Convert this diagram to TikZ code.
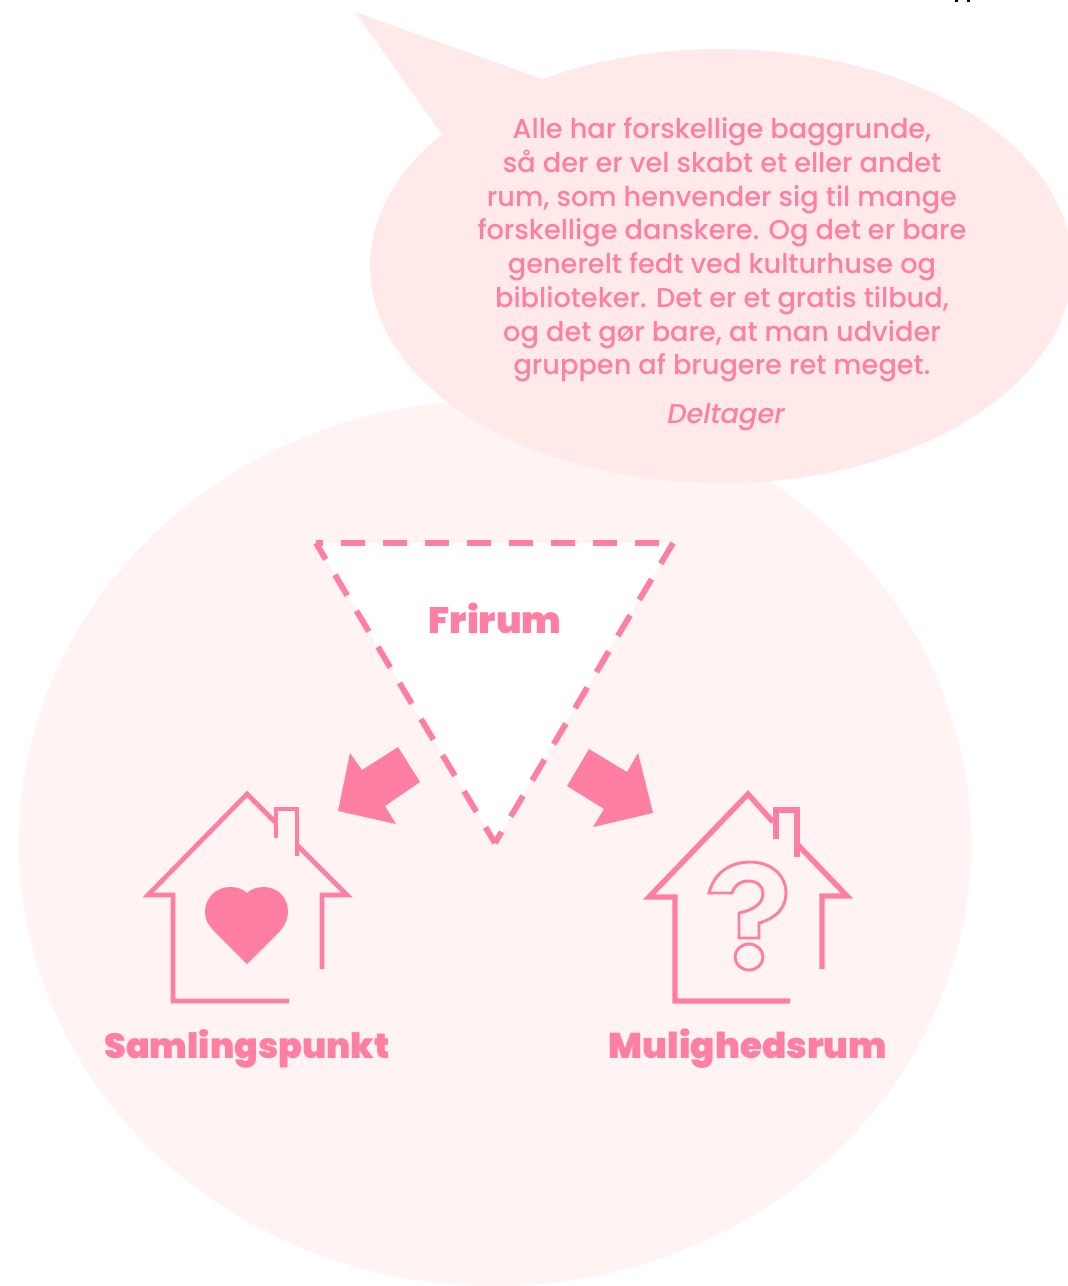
\documentclass[tikz,border=0pt]{standalone}
\usepackage{fontspec}
\setmainfont{Poppins Medium}[ItalicFont={Poppins Medium Italic}]
\newfontfamily\hd{Poppins Black}
\definecolor{pk}{HTML}{FF7FA3}
\definecolor{bub}{HTML}{FFE9E9}
\definecolor{circ}{HTML}{FFF3F3}
\tikzset{
  pxgrid/.style={x=0.75pt,y=-0.75pt},
  houseline/.style={draw=pk,line width=3.5pt,miter limit=10},
  dashline/.style={draw=pk,line width=4.4pt},
  bigarrow/.style={fill=pk},
  head/.style={text=pk,font=\hd\fontsize{26.2}{30}\selectfont,inner sep=0pt},
  quotetext/.style={text=pk,font=\fontsize{20.4}{25.3}\selectfont,align=center,inner sep=0pt}
}
\begin{document}
\begin{tikzpicture}[pxgrid]
\useasboundingbox (0,0) rectangle (1068,1286);
\fill[circ] (495,843) ellipse [x radius=476,y radius=443];
\fill[bub] (721,266) ellipse [x radius=351,y radius=217];
\fill[bub] (441,133) -- (355,12) -- (542,79) -- (600,200) -- cycle;
\fill[black] (955,0) rectangle (958,2);
\fill[black] (967,0) rectangle (970,2);
% triangle
\coordinate (ta) at (316,543);
\coordinate (tb) at (673,543);
\coordinate (tc) at (495,843);
\fill[white] (ta) -- (tb) -- (tc) -- cycle;
\draw[dashline,dash pattern=on 18pt off 13.5pt,dash phase=12.75pt] (ta) -- (tb);
\draw[dashline,dash pattern=on 18pt off 13.5pt,dash phase=3.75pt] (ta) -- (tc);
\draw[dashline,dash pattern=on 18pt off 13.5pt] (tb) -- (tc);
% arrows
\fill[bigarrow] (338,811) -- (350,753) -- (362,770) -- (398,747) -- (420,782) -- (385,806) -- (396,824) -- cycle;
\fill[bigarrow] (653,813) -- (638,753) -- (627,772) -- (589,749) -- (567,786) -- (604,809) -- (593,827) -- cycle;
% house 1
\draw[houseline] (275,822) -- (247,794) -- (148,895) -- (173,895) -- (173,1001) -- (289,1001);
\draw[houseline] (322,969) -- (322,895) -- (347,895) -- (297,845);
\draw[houseline] (276,838) -- (276,809) -- (297,809) -- (297,856);
\fill[pk] (247,964) -- (214,931) .. controls (208,925) and (205,919) .. (205,912) .. controls (205,898) and (216,887) .. (230,887) .. controls (237,887) and (243,889) .. (247,893) .. controls (251,889) and (257,887) .. (264,887) .. controls (278,887) and (288,898) .. (288,912) .. controls (288,919) and (285,925) .. (280,931) -- cycle;
% house 2
\draw[houseline,line width=4pt] (773,822) -- (748,794) -- (649,897) -- (675,897) -- (675,1001) -- (790,1001);
\draw[houseline,line width=4pt] (822,969) -- (822,896) -- (847,896) -- (798,845);
\draw[houseline,line width=4pt] (776,839) -- (776,810) -- (797,810) -- (797,857);
\draw[draw=pk,line width=2.2pt] (709,893) .. controls (714,873) and (730,862) .. (750,862) .. controls (771,862) and (786,875) .. (786,893) .. controls (786,908) and (776,918) .. (759,923) -- (759,938) -- (739,938) -- (739,913) .. controls (753,910) and (763,904) .. (763,893) .. controls (763,886) and (757,881) .. (748,881) .. controls (740,881) and (734,886) .. (732,893) -- cycle;
\draw[draw=pk,line width=2.2pt] (749,957) ellipse [x radius=14,y radius=13];
% text
\node[quotetext] (quote) at (722,250) {Alle har forskellige baggrunde,\\så der er vel skabt et eller andet\\rum, som henvender sig til mange\\forskellige danskere. Og det er bare\\generelt fedt ved kulturhuse og\\biblioteker. Det er et gratis tilbud,\\og det gør bare, at man udvider\\gruppen af brugere ret meget.};
\node[text=pk,font=\itshape\fontsize{20.4}{22}\selectfont,inner sep=0pt] (who) at (726,417) {Deltager};
\node[head,font=\hd\fontsize{27.6}{30}\selectfont] (fri) at (495,618) {Frirum};
\node[head] (sam) at (247,1049) {Samlingspunkt};
\node[head,font=\hd\fontsize{26.8}{30}\selectfont] (mul) at (748,1049) {Mulighedsrum};
\end{tikzpicture}
\end{document}
